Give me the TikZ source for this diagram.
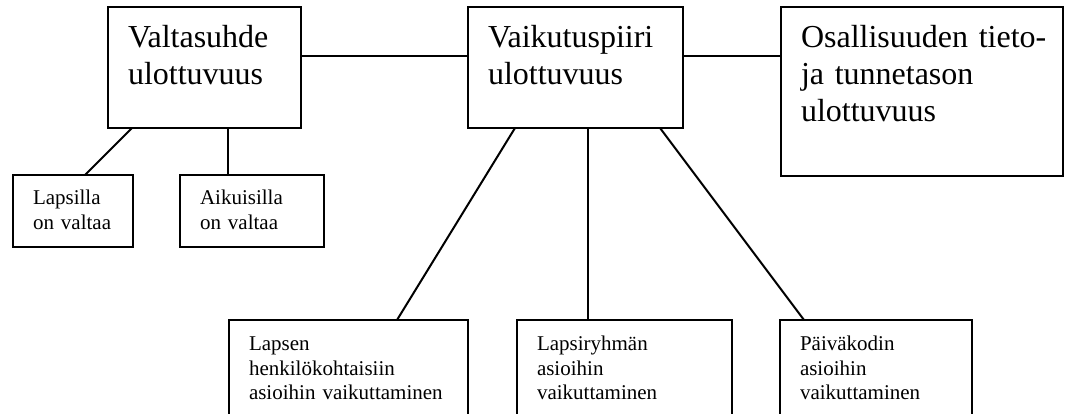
\documentclass[tikz,border=0pt]{standalone}
\usepackage{fontspec}
\setmainfont{Liberation Serif}
\usepackage{tikz}
\usetikzlibrary{positioning}

\begin{document}
\begin{tikzpicture}[x=1pt, y=-1pt,
    dimbox/.style={draw=black, line width=2pt, outer sep=0pt, anchor=north west, align=left, inner xsep=20pt, inner ysep=0pt, text height=41pt, font=\fontsize{32}{37}\selectfont},
    subbox/.style={draw=black, line width=2pt, outer sep=0pt, anchor=north west, align=left, inner xsep=20pt, inner ysep=0pt, text height=30pt, font=\fontsize{21}{25}\selectfont},
    link/.style={draw=black, line width=2pt}]

    \clip (0,0) rectangle (1069,414);
    \fill[white] (0,0) rectangle (1069,414);

    % top row
    \node [dimbox, text width=153pt, text depth=80pt] (valta) at (108,7) {Valtasuhde\\ulottuvuus};
    \node [dimbox, text width=175pt, text depth=80pt, right=167pt of valta.north east, anchor=north west] (vaiku) {Vaikutuspiiri\\ulottuvuus};
    \node [dimbox, text width=242pt, text depth=128pt, right=98pt of vaiku.north east, anchor=north west] (osall) {\mbox{Osallisuuden tieto-}\\ja tunnetason\\ulottuvuus};

    % under Valtasuhde
    \node [subbox, text width=80pt, text depth=42pt] (lapsi) at (13,175) {Lapsilla\\on valtaa};
    \node [subbox, text width=104pt, text depth=42pt, right=47pt of lapsi.north east, anchor=north west] (aikui) {Aikuisilla\\on valtaa};

    % under Vaikutuspiiri
    \node [subbox, text width=199pt, text depth=110pt] (henk) at (229,320) {Lapsen\\henkilökohtaisiin\\asioihin vaikuttaminen};
    \node [subbox, text width=175pt, text depth=110pt, right=49pt of henk.north east, anchor=north west] (ryhma) {Lapsiryhmän\\asioihin\\vaikuttaminen};
    \node [subbox, text width=152pt, text depth=110pt, right=48pt of ryhma.north east, anchor=north west] (paivak) {Päiväkodin\\asioihin\\vaikuttaminen};

    \draw [link] ([yshift=-49pt]valta.north east) -- ([yshift=-49pt]vaiku.north west);
    \draw [link] ([yshift=-49pt]vaiku.north east) -- ([yshift=-49pt]osall.north west);
    \draw [link] ([xshift=24pt]valta.south west) -- ([xshift=72pt]lapsi.north west);
    \draw [link] ([xshift=120pt]valta.south west) -- ([xshift=48pt]aikui.north west);
    \draw [link] ([xshift=47pt]vaiku.south west) -- ([xshift=168pt]henk.north west);
    \draw [link] ([xshift=120pt]vaiku.south west) -- ([xshift=71pt]ryhma.north west);
    \draw [link] ([xshift=192pt]vaiku.south west) -- ([xshift=24pt]paivak.north west);

\end{tikzpicture}
\end{document}
